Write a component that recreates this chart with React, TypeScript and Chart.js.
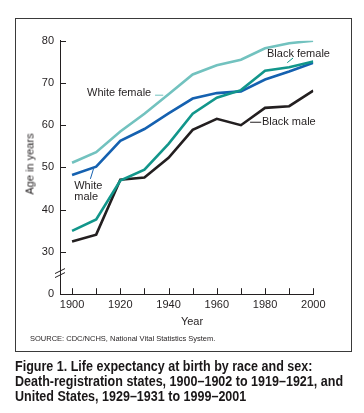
import React, { useEffect, useRef } from 'react';
import { Chart, registerables } from 'chart.js';

Chart.register(...registerables);

// ---- Data ----
const years = [1900, 1910, 1920, 1930, 1940, 1950, 1960, 1970, 1980, 1990, 2000];
const whiteFemale = [51.1, 53.6, 58.5, 62.7, 67.3, 72.0, 74.2, 75.5, 78.2, 79.4, 80.0];
const whiteMale = [48.2, 50.2, 56.3, 59.1, 62.8, 66.3, 67.6, 68.0, 70.8, 72.7, 74.8];
const blackFemale = [35.0, 37.7, 46.9, 49.5, 55.6, 62.7, 66.5, 68.3, 72.9, 73.7, 75.1];
const blackMale = [32.5, 34.1, 47.1, 47.6, 52.3, 58.9, 61.5, 60.0, 64.1, 64.5, 68.2];

const yTickValues = [20, 30, 40, 50, 60, 70, 80];
const yTickLabels = ['0', '30', '40', '50', '60', '70', '80'];
const xTickValues = [1900, 1910, 1920, 1930, 1940, 1950, 1960, 1970, 1980, 1990, 2000];
const xLabelYears = [1900, 1920, 1940, 1960, 1980, 2000];

const seriesNames = ['Black female', 'White male', 'White female', 'Black male'];
const seriesValues = [blackFemale, whiteMale, whiteFemale, blackMale];
const seriesColors = ['#12968b', '#1561b0', '#72c2bf', '#231f20'];

// label annotations in data coordinates: text lines, anchor, leader
const annotations = [
  { lines: ['White female'], x: 1906.2, y: 67.6, leader: [1934.4, 67.1, 1937.8, 67.1] },
  { lines: ['Black female'], x: 1980.8, y: 76.8, leader: [1991.6, 75.9, 1989.2, 74.8] },
  { lines: ['Black male'], x: 1978.7, y: 60.7, leader: [1973.8, 60.7, 1978.4, 60.7] },
  { lines: ['White', 'male'], x: 1900.9, y: 45.6, leader: [1908.9, 49.7, 1907.6, 47.3] },
];

const FONT = '"Liberation Sans", Arial, Helvetica, sans-serif';
const INK = '#231f20';

const decorPlugin = {
  id: 'decor',
  beforeDatasetsDraw(chart: any) {
    const ctx = chart.ctx;
    const xs = chart.scales.x;
    const ys = chart.scales.y;
    const area = chart.chartArea;
    ctx.save();
    ctx.strokeStyle = INK;
    ctx.lineWidth = 1;
    // y ticks (inward)
    yTickValues.forEach((v) => {
      if (v === yTickValues[0]) return;
      const py = Math.round(ys.getPixelForValue(v)) + 0.5;
      ctx.beginPath();
      ctx.moveTo(area.left, py);
      ctx.lineTo(area.left + 6, py);
      ctx.stroke();
    });
    // x ticks (inward)
    xTickValues.forEach((v) => {
      const px = Math.round(xs.getPixelForValue(v)) + 0.5;
      ctx.beginPath();
      ctx.moveTo(px, area.bottom);
      ctx.lineTo(px, area.bottom - 6);
      ctx.stroke();
    });
    // axis break marks
    const by = ys.getPixelForValue(25);
    [-2, 2].forEach((d) => {
      ctx.beginPath();
      ctx.moveTo(area.left - 5, by + d + 2.5);
      ctx.lineTo(area.left + 5, by + d - 2.5);
      ctx.stroke();
    });
    ctx.restore();
  },
  afterDatasetsDraw(chart: any) {
    const ctx = chart.ctx;
    const xs = chart.scales.x;
    const ys = chart.scales.y;
    ctx.save();
    ctx.font = `11px ${FONT}`;
    ctx.fillStyle = INK;
    ctx.textBaseline = 'middle';
    ctx.textAlign = 'left';
    annotations.forEach((a) => {
      const px = xs.getPixelForValue(a.x);
      const py = ys.getPixelForValue(a.y);
      a.lines.forEach((t, j) => ctx.fillText(t, px, py + j * 11));
      const colorIdx = seriesNames.indexOf(a.lines.join(' '));
      ctx.strokeStyle = colorIdx >= 0 ? seriesColors[colorIdx] : INK;
      ctx.lineWidth = 1;
      const [x1, y1, x2, y2] = a.leader;
      ctx.beginPath();
      ctx.moveTo(xs.getPixelForValue(x1), ys.getPixelForValue(y1));
      ctx.lineTo(xs.getPixelForValue(x2), ys.getPixelForValue(y2));
      ctx.stroke();
    });
    ctx.restore();
  },
};

function LifeChart() {
  const ref = useRef<HTMLCanvasElement>(null);
  useEffect(() => {
    if (!ref.current) return;
    const chart = new Chart(ref.current, {
      type: 'line',
      data: {
        datasets: seriesNames.map((name, i) => ({
          label: name,
          data: years.map((y, k) => ({ x: y, y: seriesValues[i][k] })),
          borderColor: seriesColors[i],
          backgroundColor: seriesColors[i],
          borderWidth: 2.6,
          pointRadius: 0,
          tension: 0,
          fill: false,
        })),
      },
      options: {
        responsive: false,
        animation: false,
        devicePixelRatio: 1,
        layout: { padding: { top: 40.7, right: 50.7, bottom: 0, left: 0 } },
        plugins: { legend: { display: false }, tooltip: { enabled: false } },
        scales: {
          x: {
            type: 'linear',
            min: 1895,
            max: 2000,
            afterBuildTicks: (s: any) => {
              s.ticks = xTickValues.map((v) => ({ value: v }));
            },
            afterFit: (s: any) => {
              s.height = 118.8;
            },
            grid: { display: false, drawTicks: false },
            border: { display: true, color: INK, width: 1 },
            ticks: {
              autoSkip: false,
              maxRotation: 0,
              padding: 4,
              color: INK,
              font: { family: FONT, size: 11 },
              callback: (v: any) => (xLabelYears.includes(Number(v)) ? String(v) : ''),
            },
          },
          y: {
            type: 'linear',
            min: 20,
            max: 80,
            afterBuildTicks: (s: any) => {
              s.ticks = yTickValues.map((v) => ({ value: v }));
            },
            afterFit: (s: any) => {
              s.width = 60;
            },
            grid: { display: false, drawTicks: false },
            border: { display: true, color: INK, width: 1 },
            ticks: {
              padding: 6,
              color: INK,
              font: { family: FONT, size: 11 },
              callback: (v: any) => yTickLabels[yTickValues.indexOf(Number(v))] ?? '',
            },
          },
        },
      },
      plugins: [decorPlugin],
    });
    return () => chart.destroy();
  }, []);
  return (
    <canvas
      ref={ref}
      width={364}
      height={413}
      style={{ position: 'absolute', left: 0, top: 0, width: 364, height: 413 }}
    />
  );
}

export default function App() {
  return (
    <div
      style={{
        position: 'absolute',
        left: 0,
        top: 0,
        width: 364,
        height: 413,
        background: '#ffffff',
        fontFamily: FONT,
        color: INK,
        overflow: 'hidden',
      }}
    >
      <div
        style={{
          position: 'absolute',
          left: 15,
          top: 18,
          width: 337,
          height: 334,
          boxSizing: 'border-box',
          border: '1.5px solid #3a3a3a',
        }}
      />
      <LifeChart />
      <div
        style={{
          position: 'absolute',
          left: 30,
          top: 163.5,
          fontSize: 11,
          lineHeight: '11px',
          fontWeight: 'normal',
          whiteSpace: 'nowrap',
          transform: 'translate(-50%, -50%) rotate(-90deg)',
        }}
      >
        Age in years
      </div>
      <div
        style={{
          position: 'absolute',
          left: 192,
          top: 321,
          fontSize: 11,
          lineHeight: '11px',
          transform: 'translate(-50%, -50%)',
        }}
      >
        Year
      </div>
      <div
        style={{
          position: 'absolute',
          left: 30,
          top: 335,
          fontSize: 7.5,
          lineHeight: '8px',
          whiteSpace: 'nowrap',
        }}
      >
        SOURCE: CDC/NCHS, National Vital Statistics System.
      </div>
      <div
        style={{
          position: 'absolute',
          left: 15,
          top: 358.5,
          fontSize: 14,
          lineHeight: '15px',
          fontWeight: 'bold',
          fontFamily: FONT,
          whiteSpace: 'nowrap',
          color: '#1a1718',
          transform: 'scaleX(0.895)',
          transformOrigin: 'left top',
        }}
      >
        Figure 1. Life expectancy at birth by race and sex:
        <br />
        Death-registration states, 1900–1902 to 1919–1921, and
        <br />
        United States, 1929–1931 to 1999–2001
      </div>
    </div>
  );
}
